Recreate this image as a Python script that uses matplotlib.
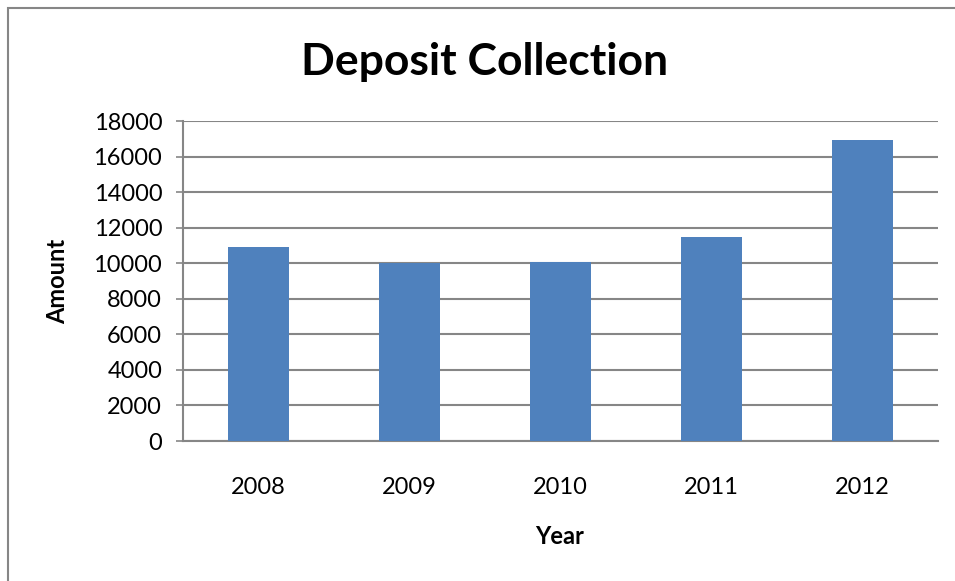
import numpy as np
import matplotlib.pyplot as plt
from matplotlib.patches import Rectangle

years = ['2008', '2009', '2010', '2011', '2012']
amounts = [10900, 10000, 10050, 11500, 16940]
yticks = [0, 2000, 4000, 6000, 8000, 10000, 12000, 14000, 16000, 18000]


def main():
    plt.rcParams['font.family'] = ['Lato', 'DejaVu Sans']
    fig = plt.figure(figsize=(9.55, 5.81), dpi=100)
    W, H = 955, 581
    ax = fig.add_axes([183 / W, 1 - 441 / H, 755 / W, 320 / H])

    x = np.arange(len(years))
    ax.bar(x, amounts, width=0.4, color='#4F81BD', zorder=3)

    ax.set_xlim(-0.5, len(years) - 0.5)
    ax.set_ylim(0, 18000)
    ax.set_yticks(yticks)
    ax.set_yticklabels([str(v) for v in yticks], fontsize=17)
    ax.set_xticks(x)
    ax.set_xticklabels(years, fontsize=17)
    ax.tick_params(axis='x', length=0, pad=26)
    ax.tick_params(axis='y', length=5, width=1.2, color='#868686', pad=10)
    ax.yaxis.grid(True, color='#868686', linewidth=1.5, zorder=0)

    for side in ['top', 'right']:
        ax.spines[side].set_visible(False)
    for side in ['left', 'bottom']:
        ax.spines[side].set_color('#868686')
        ax.spines[side].set_linewidth(1.5)

    ax.set_xlabel('Year', fontsize=17, fontweight='bold')
    ax.set_ylabel('Amount', fontsize=17, fontweight='bold')
    ax.xaxis.set_label_coords((560 - 183) / 755, (441 - 537) / 320)
    ax.yaxis.set_label_coords((58 - 183) / 755, 0.5)
    ax.xaxis.label.set_va('center')
    ax.yaxis.label.set_va('center')
    fig.text(485 / W, 1 - 62 / H, 'Deposit Collection', fontsize=32,
             fontweight='bold', ha='center', va='center')

    # chart frame
    fig.patches.append(Rectangle((8 / W, -0.1), 1.2, 1 - 8 / H + 0.1,
                                 transform=fig.transFigure, fill=False,
                                 edgecolor='#868686', linewidth=1.5))

    fig.savefig('out.png', dpi=100)


if __name__ == '__main__':
    main()
